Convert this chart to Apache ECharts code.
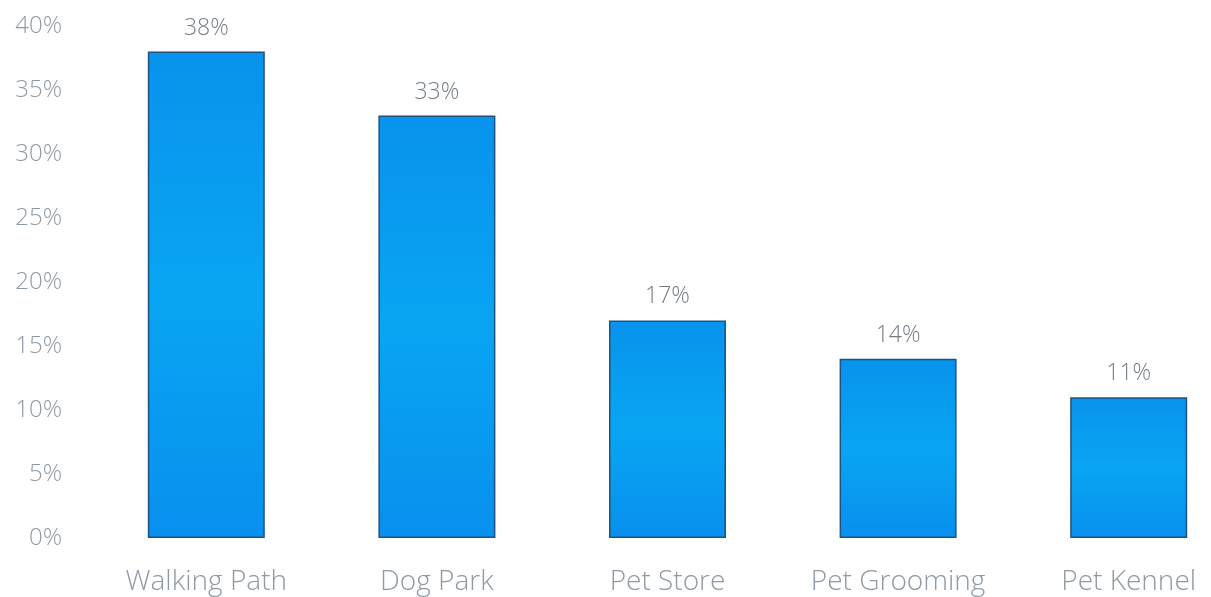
<!DOCTYPE html>
<html>
<head>
<meta charset="utf-8">
<script src="https://cdn.jsdelivr.net/npm/echarts@6/dist/echarts.min.js"></script>
<style>
  html, body { margin: 0; padding: 0; background: #ffffff; }
  #chart { width: 1211px; height: 597px; }
</style>
</head>
<body>
<div id="chart"></div>
<script>
// Share of respondents by place
const categories = ['Walking Path', 'Dog Park', 'Pet Store', 'Pet Grooming', 'Pet Kennel'];
const shares = [38, 33, 17, 14, 11];
const yTicks = [0, 5, 10, 15, 20, 25, 30, 35, 40];

const chart = echarts.init(document.getElementById('chart'));
const fontFamily = '"Open Sans", Lato, sans-serif';

chart.setOption({
  animation: false,
  backgroundColor: '#ffffff',
  grid: {
    left: 91, top: 26, bottom: 59, right: -33,
    containLabel: false,
    outerBoundsMode: 'none'
  },
  xAxis: {
    type: 'category',
    data: categories,
    axisLine: { show: false },
    axisTick: { show: false },
    axisLabel: {
      color: '#8e9aa5',
      fontFamily: fontFamily,
      fontWeight: 300,
      fontSize: 28,
      margin: 30,
      interval: 0
    }
  },
  yAxis: {
    type: 'value',
    min: yTicks[0],
    max: yTicks[yTicks.length - 1],
    interval: yTicks[1] - yTicks[0],
    axisLine: { show: false },
    axisTick: { show: false },
    splitLine: { show: false },
    axisLabel: {
      color: '#8e9aa5',
      fontFamily: fontFamily,
      fontWeight: 300,
      fontSize: 24,
      margin: 29,
      formatter: '{value}%'
    }
  },
  series: [{
    type: 'bar',
    data: shares,
    barWidth: 117,
    itemStyle: {
      color: new echarts.graphic.LinearGradient(0, 0, 0, 1, [
        { offset: 0, color: '#0893ec' },
        { offset: 0.5, color: '#09a5f3' },
        { offset: 1, color: '#0890ee' }
      ]),
      borderColor: '#1f5282',
      borderWidth: 1.5
    },
    label: {
      show: true,
      position: 'top',
      distance: 12,
      color: '#737d86',
      fontFamily: fontFamily,
      fontWeight: 300,
      fontSize: 23,
      formatter: '{c}%'
    }
  }]
});
</script>
</body>
</html>
